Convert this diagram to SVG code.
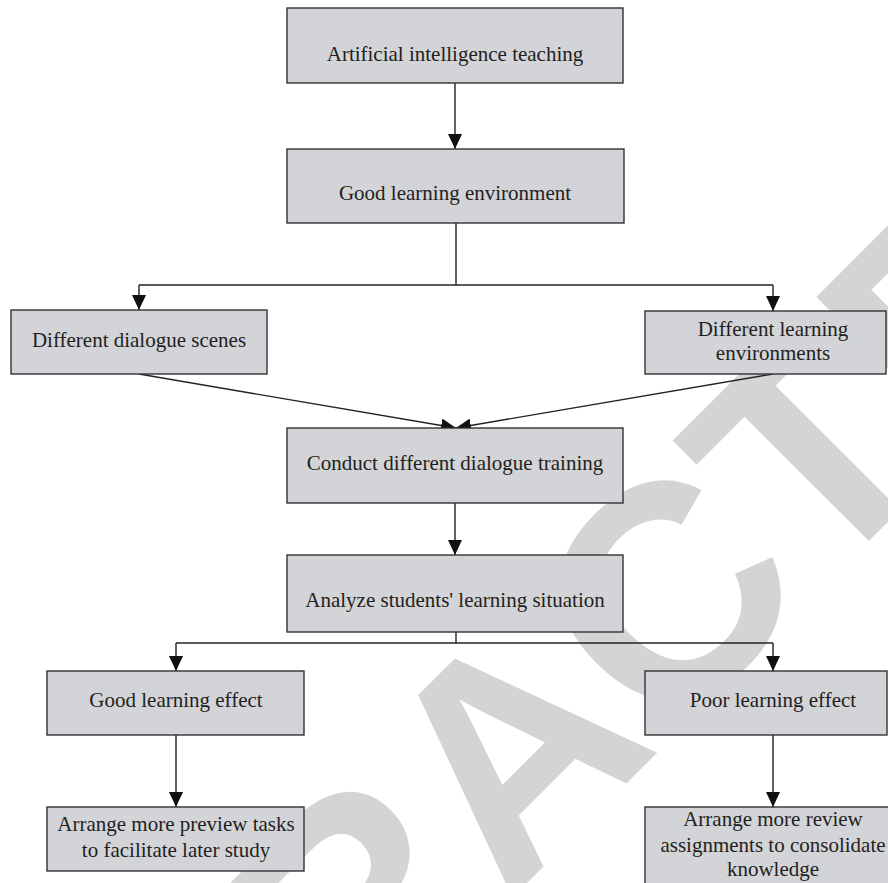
<svg xmlns="http://www.w3.org/2000/svg" width="888" height="883" viewBox="0 0 888 883">
<style>
.box{fill:#d3d4d7;stroke:#333;stroke-width:1.4}
.lbl{font-family:"Liberation Serif","Times New Roman",serif;font-size:21px;fill:#231f20;text-anchor:middle}
.ln{fill:none;stroke:#222;stroke-width:1.4}
.wm{font-family:"Liberation Sans",Arial,sans-serif;font-weight:bold;font-size:305px;fill:#d4d4d4}
</style>
<defs>
<marker id="ah" markerUnits="userSpaceOnUse" markerWidth="16" markerHeight="14" refX="15" refY="7" orient="auto">
<path d="M0,0 L15,7 L0,14 z" fill="#111"/>
</marker>
</defs>
<rect width="888" height="883" fill="#fff"/>
<text class="wm" transform="translate(-80,1490) rotate(-45)">RETRACTED</text>
<g id="connectors">
<path class="ln" d="M455,83 V149" marker-end="url(#ah)"/>
<path class="ln" d="M456,223 V285"/>
<path class="ln" d="M139,285 H773"/>
<path class="ln" d="M139,285 V310" marker-end="url(#ah)"/>
<path class="ln" d="M773,285 V311" marker-end="url(#ah)"/>
<path class="ln" d="M139,374 L456,428" marker-end="url(#ah)"/>
<path class="ln" d="M773,374 L456,428" marker-end="url(#ah)"/>
<path class="ln" d="M455,503 V555" marker-end="url(#ah)"/>
<path class="ln" d="M456,632 V643"/>
<path class="ln" d="M176,643 H773"/>
<path class="ln" d="M176,643 V671" marker-end="url(#ah)"/>
<path class="ln" d="M773,643 V671" marker-end="url(#ah)"/>
<path class="ln" d="M176,735 V807" marker-end="url(#ah)"/>
<path class="ln" d="M773,735 V807" marker-end="url(#ah)"/>
</g>
<g id="n1"><rect class="box" x="287" y="8" width="336" height="75"/><text class="lbl" x="455" y="61">Artificial intelligence teaching</text></g>
<g id="n2"><rect class="box" x="287" y="149" width="337" height="74"/><text class="lbl" x="455" y="200">Good learning environment</text></g>
<g id="n3"><rect class="box" x="11" y="310" width="256" height="64"/><text class="lbl" x="139" y="347">Different dialogue scenes</text></g>
<g id="n4"><rect class="box" x="645" y="311" width="241" height="63"/><text class="lbl" x="773" y="336">Different learning</text><text class="lbl" x="773" y="360">environments</text></g>
<g id="n5"><rect class="box" x="287" y="428" width="336" height="75"/><text class="lbl" x="455" y="470">Conduct different dialogue training</text></g>
<g id="n6"><rect class="box" x="287" y="555" width="336" height="77"/><text class="lbl" x="455" y="607">Analyze students' learning situation</text></g>
<g id="n7"><rect class="box" x="47" y="671" width="257" height="64"/><text class="lbl" x="176" y="707">Good learning effect</text></g>
<g id="n8"><rect class="box" x="645" y="671" width="242" height="64"/><text class="lbl" x="773" y="707">Poor learning effect</text></g>
<g id="n9"><rect class="box" x="47" y="807" width="257" height="64"/><text class="lbl" x="176" y="831">Arrange more preview tasks</text><text class="lbl" x="176" y="857">to facilitate later study</text></g>
<g id="n10"><rect class="box" x="645" y="807" width="250" height="90"/><text class="lbl" x="773" y="826">Arrange more review</text><text class="lbl" x="773" y="852">assignments to consolidate</text><text class="lbl" x="773" y="876">knowledge</text></g>
</svg>
